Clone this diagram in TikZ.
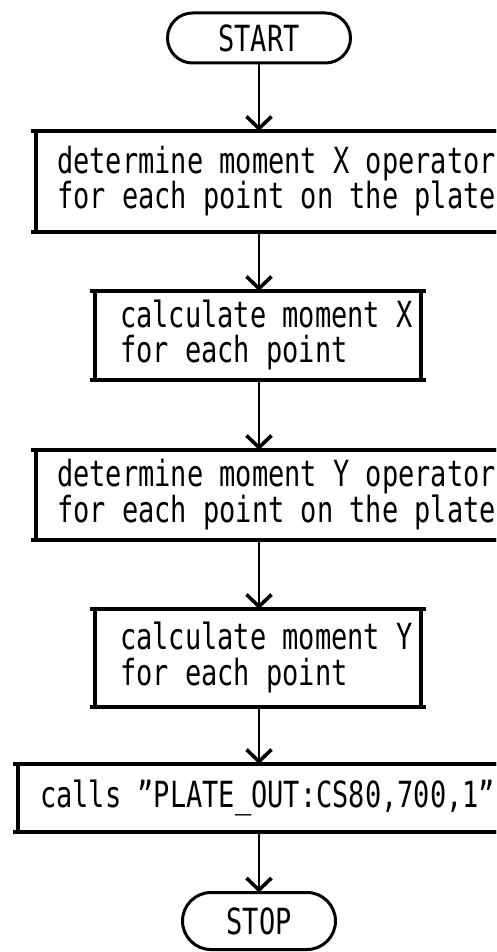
\documentclass[tikz,border=0pt]{standalone}
\usepackage{fontspec}
\newfontfamily\plotfont[FakeStretch=0.75]{DejaVu Sans Mono}
\usetikzlibrary{shapes.misc,arrows.meta}
% left-aligned block of lines in a box of fixed text width
\newcommand\cellbody[2]{\makebox[#1][l]{\begin{tabular}{@{}l@{}}#2\end{tabular}}}
\begin{document}
\begin{tikzpicture}[x=1pt,y=-1pt,
  every node/.style={font=\plotfont\fontsize{36}{28}\selectfont},
  stepbox/.style={draw, line width=3.2pt, inner sep=0pt, outer sep=0pt, anchor=north west},
  pill/.style={draw, rounded rectangle, line width=3pt, inner sep=0pt, outer sep=0pt},
  flow/.style={line width=1.6pt, -{Straight Barb[length=12pt,width=25pt,line width=3.6pt]}},
  rule/.style={line width=3.2pt}]
\useasboundingbox (0,0) rectangle (496,952);
\clip (0,0) rectangle (496,952);
\fill[white] (0,0) rectangle (496,952);

\node[pill, minimum width=183pt, minimum height=50pt] (start) at (259,38) {START};

\node[stepbox, minimum width=480pt, minimum height=101pt] (b1) at (36,131)
  {\cellbody{438pt}{determine moment X operator\\for each point on the plate}};
\node[stepbox, minimum width=326pt, minimum height=89pt] (b2) at (95,291)
  {\cellbody{276pt}{calculate moment X\\for each point}};
\node[stepbox, minimum width=480pt, minimum height=90pt] (b3) at (36,450)
  {\cellbody{438pt}{determine moment Y operator\\for each point on the plate}};
\node[stepbox, minimum width=326pt, minimum height=98pt] (b4) at (95,609)
  {\cellbody{276pt}{calculate moment Y\\for each point}};
\node[stepbox, minimum width=500pt, minimum height=68pt] (b5) at (18,764)
  {\cellbody{456pt}{calls ”PLATE\_OUT:CS80,700,1”}};

\node[pill, minimum width=153pt, minimum height=57pt] (stop) at (259,921) {STOP};

% top and bottom rules run a little past the side lines
\foreach \b in {b1,b2,b3,b4,b5}
  \draw[rule] ([xshift=-5pt]\b.north west) -- ([xshift=5pt]\b.north east)
              ([xshift=-5pt]\b.south west) -- ([xshift=5pt]\b.south east);

\draw[flow] (start) -- (start |- b1.north);
\draw[flow] (b1.south -| start) -- (b2.north -| start);
\draw[flow] (b2.south -| start) -- (b3.north -| start);
\draw[flow] (b3.south -| start) -- (b4.north -| start);
\draw[flow] (b4.south -| start) -- (b5.north -| start);
\draw[flow] (b5.south -| start) -- (stop);
\end{tikzpicture}
\end{document}
